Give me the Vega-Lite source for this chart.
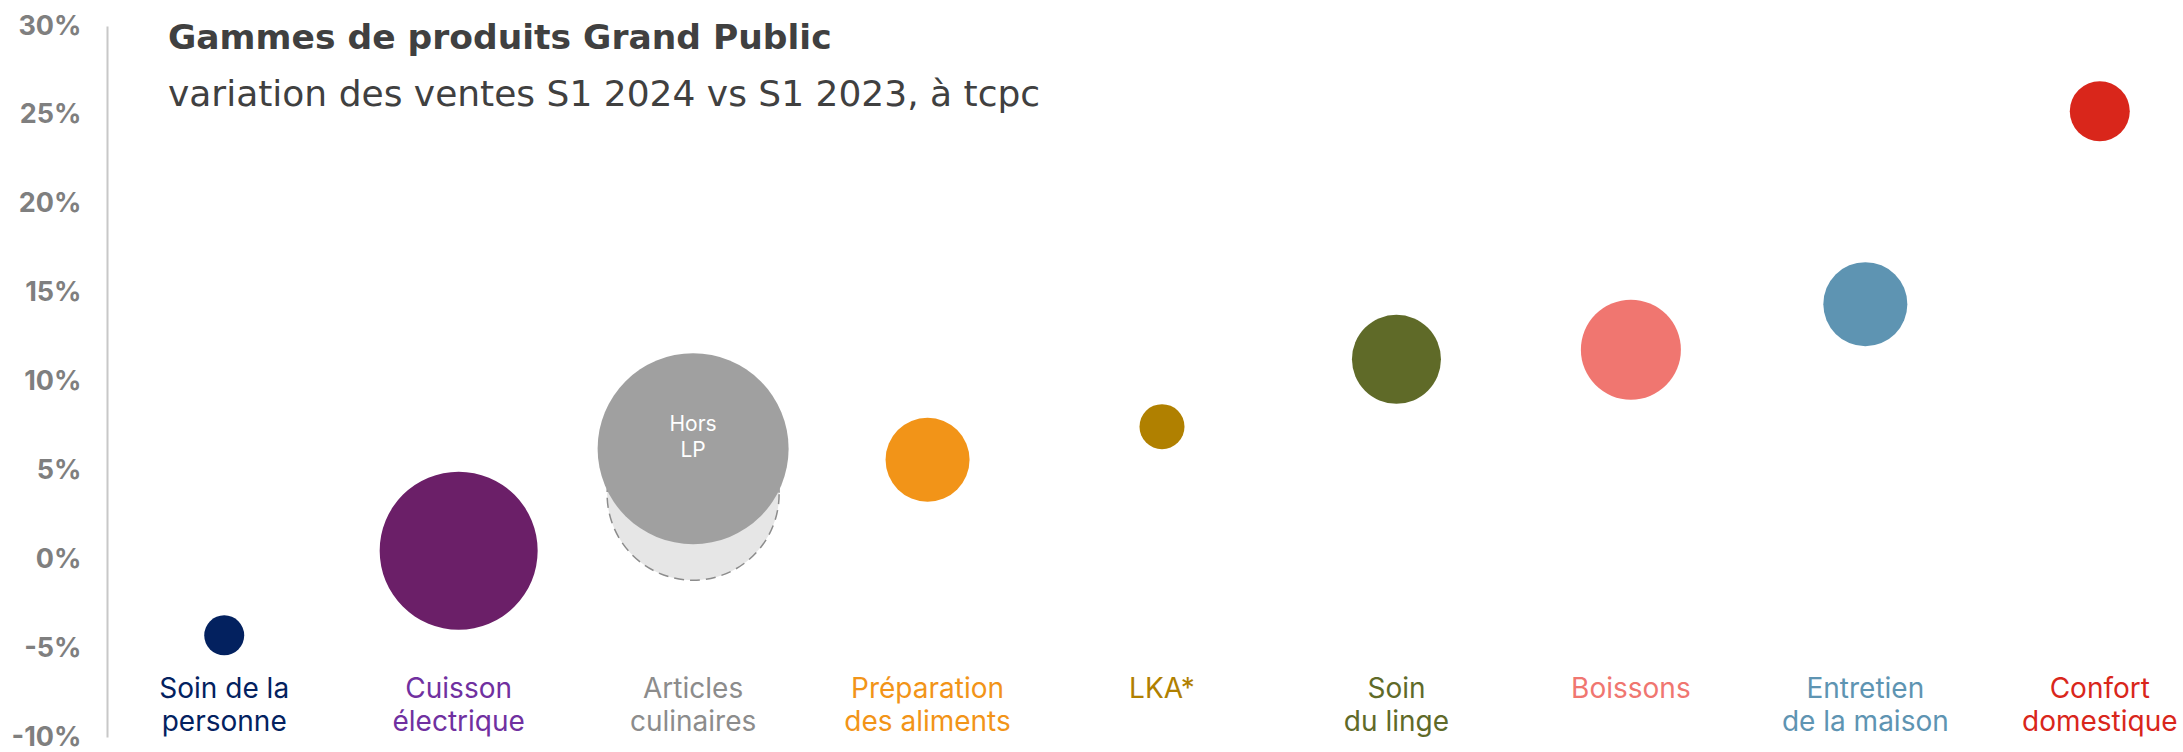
{
  "$schema": "https://vega.github.io/schema/vega-lite/v6.json",
  "width": 2110,
  "height": 711,
  "autosize": {"type": "none"},
  "padding": {"left": 107, "top": 26, "right": 0, "bottom": 15},
  "background": "white",
  "config": {
    "view": {"stroke": null},
    "font": "Inter",
    "locale": {"number": {"decimal": ".", "thousands": ",", "grouping": [3], "currency": ["", ""], "minus": "-"}}
  },
  "title": {
    "text": "Gammes de produits Grand Public",
    "subtitle": "variation des ventes S1 2024 vs S1 2023, à tcpc",
    "anchor": "start",
    "frame": "group",
    "orient": "top",
    "offset": 0,
    "dx": 61,
    "dy": 102,
    "font": "DejaVu Sans",
    "fontSize": 34.5,
    "fontWeight": "bold",
    "color": "#404040",
    "subtitleFont": "DejaVu Sans",
    "subtitleFontSize": 36,
    "subtitleFontWeight": "normal",
    "subtitleColor": "#404040",
    "subtitlePadding": 22
  },
  "datasets": {
    "gammes": [
      {"categorie": "Soin de la personne", "label": "Soin de la\npersonne", "variation": -0.0428, "poids": 16},
      {"categorie": "Cuisson électrique", "label": "Cuisson\nélectrique", "variation": 0.0048, "poids": 249.6},
      {"categorie": "Articles culinaires", "label": "Articles\nculinaires", "variation": 0.0622, "poids": 364.8},
      {"categorie": "Préparation des aliments", "label": "Préparation\ndes aliments", "variation": 0.056, "poids": 70.6},
      {"categorie": "LKA*", "label": "LKA*", "variation": 0.0746, "poids": 20.25},
      {"categorie": "Soin du linge", "label": "Soin\ndu linge", "variation": 0.1125, "poids": 79.2},
      {"categorie": "Boissons", "label": "Boissons", "variation": 0.1179, "poids": 100},
      {"categorie": "Entretien de la maison", "label": "Entretien\nde la maison", "variation": 0.1435, "poids": 70.6},
      {"categorie": "Confort domestique", "label": "Confort\ndomestique", "variation": 0.252, "poids": 36}
    ],
    "total": [
      {"categorie": "Articles culinaires", "variation": 0.0366, "poids": 295.8}
    ]
  },
  "layer": [
    {
      "data": {"name": "total"},
      "mark": {"type": "point", "shape": "circle", "filled": true, "fill": "#e6e6e6", "fillOpacity": 1, "opacity": 1, "stroke": "#8c8c8c", "strokeWidth": 1.5, "strokeDash": [10, 6]},
      "encoding": {
        "x": {"field": "categorie", "type": "nominal", "scale": {"type": "point", "padding": 0.5, "domain": ["Soin de la personne", "Cuisson électrique", "Articles culinaires", "Préparation des aliments", "LKA*", "Soin du linge", "Boissons", "Entretien de la maison", "Confort domestique"]}, "axis": null},
        "y": {"field": "variation", "type": "quantitative", "scale": {"domain": [-0.1, 0.3], "nice": false, "zero": false},
          "axis": {"values": [-0.1, -0.05, 0, 0.05, 0.1, 0.15, 0.2, 0.25, 0.3], "format": ".0%", "title": null, "grid": false, "ticks": false, "domain": true, "domainColor": "#c8c8c8", "domainWidth": 2, "labelPadding": 26, "labelFont": "Inter", "labelFontSize": 27, "labelFontWeight": "bold", "labelColor": "#7f7f7f"}},
        "size": {"field": "poids", "type": "quantitative", "scale": {"type": "linear", "domain": [0, 400], "range": [0, 40000], "zero": true}, "legend": null}
      }
    },
    {
      "data": {"name": "gammes"},
      "mark": {"type": "point", "shape": "circle", "filled": true, "opacity": 1, "strokeWidth": 0},
      "encoding": {
        "x": {"field": "categorie", "type": "nominal"},
        "y": {"field": "variation", "type": "quantitative"},
        "size": {"field": "poids", "type": "quantitative"},
        "color": {"field": "categorie", "type": "nominal", "legend": null,
          "scale": {"domain": ["Soin de la personne", "Cuisson électrique", "Articles culinaires", "Préparation des aliments", "LKA*", "Soin du linge", "Boissons", "Entretien de la maison", "Confort domestique"],
            "range": ["#03215f", "#6b1f68", "#a0a0a0", "#f29418", "#b08000", "#5f6a28", "#f07670", "#5e94b2", "#d9261b"]}}
      }
    },
    {
      "data": {"name": "gammes"},
      "transform": [{"filter": "datum.categorie === 'Articles culinaires'"}],
      "mark": {"type": "text", "text": ["Hors", "LP"], "font": "Inter", "fontSize": 21, "color": "white", "align": "center", "baseline": "middle", "lineHeight": 26, "dy": -24},
      "encoding": {
        "x": {"field": "categorie", "type": "nominal"},
        "y": {"field": "variation", "type": "quantitative"}
      }
    },
    {
      "mark": {"type": "rule", "strokeDash": [7, 5], "color": "#bdbdbd", "strokeWidth": 2},
      "encoding": {"y": {"datum": 0}}
    },
    {
      "data": {"name": "gammes"},
      "mark": {"type": "text", "font": "Inter", "fontSize": 28, "align": "center", "baseline": "alphabetic", "lineBreak": "\n", "lineHeight": 33},
      "encoding": {
        "x": {"field": "categorie", "type": "nominal"},
        "y": {"datum": -0.078},
        "text": {"field": "label"},
        "color": {"field": "categorie", "type": "nominal", "legend": null,
          "scale": {"domain": ["Soin de la personne", "Cuisson électrique", "Articles culinaires", "Préparation des aliments", "LKA*", "Soin du linge", "Boissons", "Entretien de la maison", "Confort domestique"],
            "range": ["#03215f", "#7030a0", "#8c8c8c", "#f29418", "#b08000", "#5f6a28", "#f07670", "#5e94b2", "#d9261b"]}}
      }
    }
  ],
  "resolve": {"scale": {"color": "independent"}}
}
